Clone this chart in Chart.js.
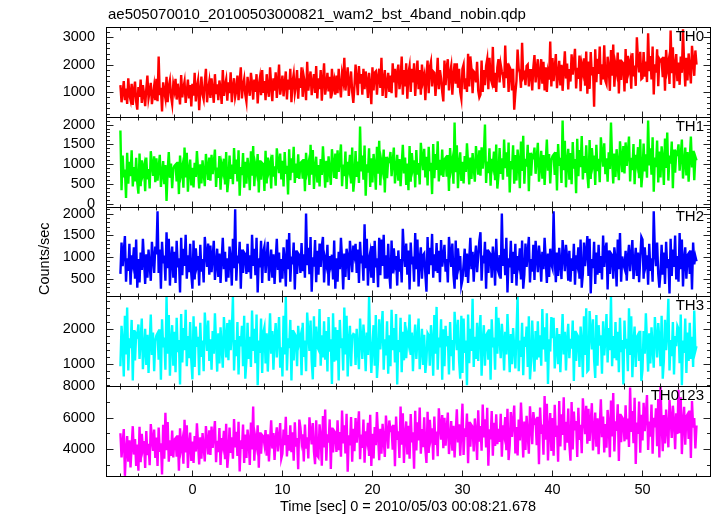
<!DOCTYPE html>
<html><head><meta charset="utf-8">
<script src="https://cdn.jsdelivr.net/npm/chart.js@4/dist/chart.umd.min.js"></script>
<style>
html,body{margin:0;padding:0;background:#fff;}
#wrap{position:relative;width:717px;height:516px;overflow:hidden;background:#fff;}
#wrap canvas{position:absolute;left:0;}
</style></head><body><div id="wrap"></div>
<script>
const plotTitle = "ae505070010_20100503000821_wam2_bst_4band_nobin.qdp";
const xTitle = "Time [sec] 0 = 2010/05/03 00:08:21.678";
const yTitle = "Counts/sec";
const bandNames = ["TH0", "TH1", "TH2", "TH3", "TH0123"];
const bandColors = ["#ff0000", "#00ff00", "#0000ff", "#00ffff", "#ff00ff"];

// light-curve time grid: first bin time and bin width (sec)
const timeStart = -8;
const timeStep = 0.125;

// x axis
const xMin = -9.6, xMax = 57.5;
const xTickLabels = [0, 10, 20, 30, 40, 50];
const xMinorStep = 2, xMajorStep = 10;

// y axes, one per panel
const yMin = [80, -75, 100, 370, 2290];
const yMax = [3380, 2190, 2150, 2930, 8000];
const yTickLabels = [[1000, 2000, 3000], [0, 500, 1000, 1500, 2000], [500, 1000, 1500, 2000], [1000, 2000], [4000, 6000, 8000]];
const yMajorStep = [1000, 500, 500, 1000, 2000];
const yMinorStep = [200, 100, 100, 200, 1000];

// counts/sec, one value per 0.125 s bin from t = -8 s to t = 56 s
const th0 = [
1250,620,980,1400,700,1120,560,1500,880,700,1300,520,1050,1380,640,350,
1180,820,1450,600,1250,930,480,1100,1600,760,1020,1330,550,900,1220,700,
1480,660,2300,880,1150,280,1350,1000,760,1550,620,1200,1420,840,560,1280,
1050,1480,720,1300,940,540,1620,800,1150,1380,600,1010,1450,760,1250,470,
1300,860,1700,650,1180,1420,330,1050,1560,900,720,1350,1850,620,1100,1380,
780,1500,1050,600,1650,920,1280,700,1420,1120,560,1800,850,1250,1460,680,
1350,960,1720,620,1180,1500,820,1050,1600,700,1400,1900,760,1250,1480,900,
640,1550,1150,860,1700,1300,720,1450,1000,1650,580,1250,1520,880,1800,960,
1400,700,1650,1100,820,1900,1250,660,1500,1050,1720,780,1350,2000,900,1200,
1600,840,1300,1750,720,1450,1080,1850,620,1380,1650,960,1250,1800,750,1500,
1150,1900,820,1550,1300,700,2100,1050,1450,1750,880,1350,1650,960,1950,760,
1500,1100,1800,680,1400,2050,900,1250,1700,1020,1550,760,1850,1150,1400,900,
1600,950,1850,1250,800,1650,1400,2250,1050,1500,1900,850,1350,1750,1000,600,
1200,2000,1450,880,1950,1300,1650,900,1850,1100,1750,1400,780,1700,1250,550,
1900,1050,1700,1750,900,1550,1850,1150,2250,850,1450,1800,780,1350,1700,1000,
1600,950,2050,1350,1850,800,1700,2000,1100,1450,2300,900,1800,1200,2050,750,
1700,1950,1000,1850,1350,2050,850,1550,2150,1100,1800,900,2000,1400,1600,700,
1600,2150,950,1900,2100,1200,1750,1700,850,1450,2250,1100,1800,1500,1000,650,
2150,1250,1900,2200,1050,1700,1950,900,1600,2050,1300,2050,1150,1850,1000,750,
1850,2000,1100,1500,1000,2400,1200,2300,1850,950,1750,1700,1350,2100,1050,800,
900,2150,1000,1800,1250,1950,2200,1100,2250,1500,1350,2650,1150,1700,1000,1900,
2200,1350,2000,1750,1600,1150,2700,1500,2050,1000,1900,1800,1050,1850,350,950,
1400,2550,1850,1700,1150,2800,1550,1650,1250,1950,2000,1200,1800,1800,1050,1900,
2350,1350,1850,2200,1100,1650,2200,1300,2100,1050,1900,1000,1700,1450,2850,1200,
2240,1390,1890,2390,1140,1640,2140,1240,1990,1040,1790,2490,1490,2040,1090,1840,
1380,2380,1630,2080,2580,1130,1880,1480,2330,1030,1980,1730,2230,1230,2480,930,
2110,1110,2460,1610,1910,460,2560,1360,2210,1660,2660,1260,2010,1460,2710,1410,
1290,2290,1890,1040,2540,1590,2740,1190,1990,1740,2440,940,2190,1440,2090,2040,
1020,2570,1320,2320,1820,2070,1120,2420,1570,1970,1220,3000,2170,1720,2470,1470,
1510,2460,1560,2110,1360,3150,1760,2310,1460,2660,910,2010,1710,2560,1210,2210,
2140,2190,1540,2290,1040,2540,1840,2090,1290,3250,1690,2640,1140,1990,2390,1390,
2080,1260,2300,1700,3300,2030,1200,2250,1420,2410,1860,1310,2690,2140,1590,2520,
2000];

const th1 = [
1850,350,1220,670,870,150,1290,510,1060,700,1350,440,930,570,1160,540,
260,1270,450,1100,780,940,320,1170,620,880,390,1330,1010,710,1200,550,
1150,590,920,1240,430,760,1080,500,980,80,850,1310,660,1020,400,890,
960,990,570,1060,250,1220,770,930,410,1420,670,1290,310,860,1120,470,
910,420,1040,680,1330,870,390,1000,520,1100,780,450,1260,940,610,1170,
590,1240,750,1050,1370,430,920,660,1210,360,980,820,1140,490,1310,300,
600,1220,630,990,500,1410,760,1120,570,1350,210,930,730,1280,410,1060,
510,1160,900,350,1330,710,1460,450,970,810,1260,290,1100,610,1030,1000,
330,1340,520,1170,850,1010,390,1240,690,950,460,1400,1080,780,1270,620,
1090,440,1310,760,960,240,1380,600,1150,790,1440,530,1020,660,1250,630,
1030,1060,640,1130,320,1290,840,1000,480,1490,740,1360,380,930,1190,540,
980,440,1130,730,1450,950,410,1090,550,1200,840,480,1380,1020,660,1270,
630,1350,810,1140,1500,450,990,700,1320,380,1060,880,1240,520,1420,310,
640,1330,680,1070,530,1950,820,1220,610,1470,210,1000,790,1400,430,1150,
540,1260,980,360,1440,760,1590,470,1050,870,1370,290,1190,650,1120,1080,
1310,700,1060,1420,520,880,1240,590,1130,450,990,1490,770,1170,480,1020,
350,1460,560,1280,920,1100,420,1360,740,1030,490,1540,1180,850,1390,670,
1190,470,1440,830,1040,250,1510,650,1260,860,1580,570,1110,720,1370,680,
1120,1160,690,1230,330,1410,910,1090,510,2050,800,1480,400,1020,1300,580,
1060,520,1210,810,1530,1030,490,1170,630,1280,920,560,1460,1100,740,1350,
710,1430,890,1220,2000,530,1070,780,1400,460,1140,960,1320,600,1500,390,
720,1410,760,1150,610,1620,900,1300,690,1550,290,1080,870,1480,510,1230,
590,1370,1060,400,1570,830,1720,510,1140,940,1490,320,1290,710,1220,1180,
1420,760,1150,1540,560,950,1340,640,1230,480,1070,1620,840,1260,520,1110,
1200,1240,730,1310,340,1510,960,1160,530,2100,850,1590,420,1080,1390,610,
1280,500,1560,890,1130,270,1640,700,1360,930,1710,620,1210,780,1480,740,
400,1610,630,1410,1020,1220,480,1490,830,1140,550,1680,1290,940,1530,750,
1150,560,1300,880,2050,1110,520,1270,680,1380,990,600,1580,1190,800,1460,
770,1550,960,1310,1700,570,1160,850,1510,500,1240,1040,1430,650,1630,420,
780,1520,820,1250,660,2100,970,1400,740,1680,310,1170,930,1600,540,1320,
670,1450,1140,480,1650,910,1800,590,1220,1020,1570,400,1370,790,1300,1260,
1500,840,1230,1620,640,1030,1420,720,1310,560,1150,1700,920,1340,600,1190,
1100];

const th2 = [
610,1330,790,1120,1480,430,970,680,1300,360,1040,860,1220,500,1400,290,
950,410,1100,700,1420,920,380,1060,520,1170,810,450,1350,990,630,1240,
1060,2050,630,1170,270,1350,850,1030,450,1570,740,1420,340,960,1240,520,
1120,400,1370,760,970,180,1440,580,1190,790,1510,500,1040,650,1300,610,
270,1380,480,1200,840,1020,340,1280,660,950,410,1460,1100,770,1310,590,
1260,650,1010,1370,470,830,1190,540,1080,400,940,1440,720,1120,430,970,
520,1240,960,340,1420,740,2100,450,1030,850,1350,270,1170,630,1100,1060,
610,1300,650,1040,500,1510,790,1190,580,1440,180,970,760,1370,400,1120,
1240,630,990,1350,450,810,1170,520,1060,380,920,1420,700,1100,410,950,
500,1220,940,320,1400,720,1550,430,1010,830,1330,250,1150,610,1080,1040,
630,1320,670,1060,520,2000,810,1210,600,1460,200,990,780,1390,420,1140,
590,1310,770,1250,1460,410,950,820,1280,340,1020,840,1050,480,1380,270,
970,430,1120,720,1440,940,250,1080,540,1190,1000,470,1370,1010,650,1260,
1060,1300,630,1170,400,1350,850,1030,450,1750,740,1420,340,960,1100,520,
1250,400,1370,760,970,300,1440,580,1400,790,1510,500,1040,500,1300,610,
270,1380,620,1200,840,1020,340,1150,660,950,410,1650,1100,770,1310,590,
1150,250,1330,830,1010,430,1550,720,1400,320,940,1220,500,1040,1080,610,
200,1460,600,1210,810,1530,520,1060,670,1320,630,1140,420,1390,780,990,
1280,660,950,410,1460,1100,770,1310,590,270,1380,480,1200,840,1020,340,
470,830,1190,540,1080,400,940,1440,720,1120,430,970,1260,650,1010,1370,
1570,450,1030,850,1350,270,1170,630,1100,1060,520,1240,960,340,1420,740,
650,1040,500,2000,790,1190,580,1440,180,970,760,1370,400,1120,610,1300,
340,1020,840,1200,480,1380,270,590,1310,770,1100,1460,410,950,660,1280,
470,1370,1010,650,1260,970,430,1120,720,1440,940,400,1080,540,1190,830,
740,2050,960,420,1100,560,1210,850,490,1390,1030,670,1280,990,450,1140,
430,970,680,1300,360,1040,860,1220,500,1400,290,610,1330,790,1120,1480,
560,1420,160,950,740,1350,380,1100,590,1280,630,1020,480,1490,770,1170,
1330,250,1150,610,1080,1040,500,1220,940,320,1400,720,1550,430,1010,830,
740,1140,450,990,1280,670,1030,1390,490,850,1210,560,1100,420,960,1460,
1400,500,1220,860,1040,360,1300,680,970,430,2050,1120,790,1330,610,290,
630,1280,590,1100,380,1350,740,950,160,1420,560,1170,770,1490,480,1020,
430,1550,720,1400,320,940,1220,500,1040,1080,610,1150,250,1330,830,1010,
900];

const th3 = [
930,2080,1620,640,2370,1270,2600,810,1730,1450,2250,530,1960,1100,1850,1790,
2120,1140,1710,2290,850,1430,2000,970,1830,740,1600,2400,1250,1890,790,1660,
1810,1870,1120,1980,550,2270,1470,1750,830,2900,1290,2390,660,1640,2100,950,
1910,760,2310,1330,1680,410,2420,1040,2020,1390,2540,930,1790,1160,2190,1100,
560,2350,910,2060,1480,1770,680,2170,1200,1660,790,2460,1890,1370,2230,1080,
1700,830,1930,1290,2440,1640,780,1870,1010,2040,1470,890,2330,1750,1180,2160,
1100,2250,1390,1910,2900,810,1680,1220,2190,700,1790,1500,2080,930,2370,580,
1080,2170,1140,1770,910,2520,1370,2000,1020,2400,390,1660,1310,2290,740,1890,
2040,1010,1870,780,1640,2440,1290,1930,830,1700,2160,1180,1750,2330,890,1470,
640,2370,1270,2900,810,1730,1450,2250,530,1960,1100,1850,1790,930,2080,1620,
1770,680,2170,1200,1660,790,2460,1890,1370,2230,1080,560,2350,910,2060,1480,
1410,2560,950,1810,1180,2210,1120,1930,780,2330,1350,1700,430,2440,1060,2040,
1100,1960,530,2250,1450,1730,810,2600,1270,2370,640,1620,2080,930,1790,1850,
1830,970,2000,1430,850,2290,1710,1140,2120,1660,790,1890,1250,2900,1600,740,
1520,2100,950,2390,600,1120,2270,1410,1930,2500,830,1700,1240,2210,720,1810,
930,2540,1390,2020,1040,2420,410,1680,1330,2310,760,1910,1100,2190,1160,1790,
1600,2400,1250,1890,790,1660,2120,1140,1710,2290,850,1430,2000,970,1830,740,
1120,1870,1810,950,2100,1640,660,2390,1290,2620,830,1750,1470,2270,550,1980,
930,2080,1500,1790,700,2190,1220,1680,810,2480,1910,1390,2250,1100,580,2370,
740,2290,1310,1660,390,2400,1020,2000,1370,2850,910,1770,1140,2170,1080,1890,
2390,660,1640,2100,950,1810,1870,1120,1980,550,2270,1470,1750,830,2620,1290,
2310,1730,1160,2140,1680,810,1910,1270,2420,1620,760,1850,990,2020,1450,870,
1890,2900,790,1660,1200,2170,680,1770,1480,2060,910,2350,560,1080,2230,1370,
780,1930,1120,2210,1180,1810,950,2560,1410,2040,1060,2440,430,1700,1350,2330,
1730,2310,870,1450,2020,990,1850,760,1620,2420,1270,1910,810,1680,2140,1160,
1710,1430,2230,510,1940,1080,1830,1770,910,2060,1600,620,2350,1250,2580,790,
830,2500,1930,1410,2270,1120,600,2390,950,2100,1520,1810,720,2210,1240,1700,
2420,1040,2020,1390,2900,930,1790,1160,2190,1100,1910,760,2310,1330,1680,410,
2230,1430,1710,790,2580,1250,2350,620,1600,2060,910,1770,1830,1080,1940,510,
830,1930,1290,2440,1640,780,1870,1010,2040,1470,890,2330,1750,1180,2160,1700,
930,2370,580,1100,2250,1390,1910,2850,810,1680,1220,2190,700,1790,1500,2080,
2000,1020,2400,390,1660,1310,2290,740,1890,1080,2170,1140,1770,910,2520,1370,
1500];

const th0123 = [
5000,3470,4370,5270,2300,3920,4820,3200,4550,2840,4190,5450,3650,4640,2930,4280,
2620,5410,3160,4960,4060,4510,2800,5140,3610,4330,2980,5590,4690,3880,5230,3430,
4730,2930,5360,3830,4370,2390,5540,3380,6300,3920,5720,3200,4550,3560,5180,3470,
4600,4690,3520,4870,2620,5320,4060,4510,3070,5860,3790,5500,2800,4330,5050,3250,
4470,3120,4830,3840,5640,4380,3030,4740,3390,5010,4110,3210,5460,4560,3660,5190,
3620,5420,4070,4880,5780,3170,4520,3800,5330,2990,4700,4250,5150,3350,5600,2810,
3660,5370,3750,4740,3390,5910,4110,5100,3570,5730,2580,4560,4020,5550,3120,4920,
3440,5240,4520,2990,5690,3980,6700,3260,4700,4250,5510,2810,5060,3710,4880,4790,
4300,5200,3580,4930,3220,4570,5830,4030,5020,3310,4660,5380,3850,4750,5650,3400,
3710,5240,4250,6050,3530,4880,3890,5510,3800,5060,3260,5690,4160,4700,2720,5870,
5380,4480,4930,3220,5560,4030,4750,3400,6010,5110,4300,5650,3850,3040,5830,3580,
3470,5570,4730,2940,6090,4100,6510,3260,4940,4410,5880,2730,5360,3780,5150,5040,
3820,5820,3930,5080,3510,6450,4350,5500,3720,6240,2560,4870,4240,6030,3190,5290,
3870,5970,4400,5340,6390,3350,4920,4080,5870,3140,5130,4610,5660,3560,6180,2930,
4970,3400,5390,4240,6340,4870,3290,5290,3710,5600,4550,3500,6130,5080,4030,5810,
5220,5330,3960,5540,2910,6060,4590,5120,3440,6690,4280,6270,3120,4910,5750,3650,
5480,3380,6220,4430,5060,2750,6430,3910,5690,4540,6640,3700,5270,4120,6010,4010,
3120,6370,3750,5850,4800,5320,3330,6060,4270,5110,3540,6580,5530,4590,6160,4060,
5990,4210,5260,6310,3680,4730,5780,3890,5470,3470,5050,6520,4420,5570,3580,5150,
6880,3630,5310,4780,6250,3100,5730,4150,5520,5410,3840,5940,5100,3310,6460,4470,
5460,3890,6830,4730,5880,4100,6620,2940,5250,4620,6410,3570,5670,4200,6200,4310,
5290,4450,6240,3510,5500,4980,6030,3930,6550,3300,4240,6340,4770,5710,6760,3720,
5390,3590,5870,4550,6950,5270,3470,5750,3950,6110,4910,3710,6710,5510,4310,6350,
5680,5800,4240,6040,3040,6640,4960,5560,3640,7360,4600,6880,3280,5320,6280,3880,
5970,3570,6810,4770,5490,3200,7050,4170,6210,4890,7290,3930,5730,4410,6570,4290,
3260,6980,3980,6380,5180,5780,3500,6620,4580,5540,3740,7220,6020,4940,6740,4340,
6550,4510,5710,6910,3910,5110,6310,4150,5950,3670,5470,7150,4750,6070,3790,5590,
4080,6480,5520,3480,7080,4800,7560,3840,5760,5160,6840,3240,6240,4440,6000,5880,
4490,6770,4610,5930,4130,7900,5090,6410,4370,7250,3050,5690,4970,7010,3770,6170,
4540,6940,5140,6220,7420,3940,5740,4780,6820,3700,5980,5380,6580,4180,7180,3460,
8000,5670,3870,6150,4350,6510,5310,4110,7110,5910,4710,6750,5790,3990,6270,4950,
7760,5000,7280,3680,5720,6680,4280,6080,6200,4640,6440,3440,7040,5360,5960,4040,
5500];

const series = [th0, th1, th2, th3, th0123];

const FONT = "'Liberation Sans', Arial, Helvetica, sans-serif";
Chart.defaults.font.family = FONT;
Chart.defaults.color = '#000';

const W = 717, H = 516;
const borders = [27, 117, 207, 296, 386, 476];
const plotLeft = 106, plotRight = 710;

function framePlugin(i) {
  return {
    id: 'frame' + i,
    afterDatasetsDraw(chart) {
      const {ctx, chartArea: a} = chart;
      const xs = chart.scales.x, ys = chart.scales.y;
      const L = Math.round(a.left) + 0.5, R = Math.round(a.right) + 0.5;
      const T = Math.round(a.top) + 0.5, B = Math.round(a.bottom) + 0.5;
      ctx.save();
      ctx.strokeStyle = '#222';
      ctx.lineWidth = 1;
      ctx.beginPath();
      const k0 = Math.ceil(xs.min / xMinorStep), k1 = Math.floor(xs.max / xMinorStep);
      for (let k = k0; k <= k1; k++) {
        const v = k * xMinorStep;
        const px = Math.round(xs.getPixelForValue(v)) + 0.5;
        const len = (v % xMajorStep === 0) ? 6 : 3;
        ctx.moveTo(px, T); ctx.lineTo(px, T + len);
        ctx.moveTo(px, B); ctx.lineTo(px, B - len);
      }
      const st = yMinorStep[i], mj = yMajorStep[i];
      const j0 = Math.ceil(ys.min / st), j1 = Math.floor(ys.max / st);
      for (let j = j0; j <= j1; j++) {
        const v = j * st;
        const py = Math.round(ys.getPixelForValue(v)) + 0.5;
        const len = (v % mj === 0) ? 7 : 3.5;
        ctx.moveTo(L, py); ctx.lineTo(L + len, py);
        ctx.moveTo(R, py); ctx.lineTo(R - len, py);
      }
      ctx.stroke();
      ctx.strokeStyle = '#000';
      ctx.strokeRect(L, T, R - L, B - T);
      ctx.fillStyle = '#000';
      ctx.font = '15px ' + FONT;
      ctx.textAlign = 'right';
      ctx.textBaseline = 'middle';
      ctx.fillText(bandNames[i], 704, a.top + 10);
      if (i === 0) {
        ctx.textAlign = 'left';
        ctx.fillText(plotTitle, 108, 15);
      }
      ctx.restore();
    }
  };
}

const wrap = document.getElementById('wrap');
for (let i = 0; i < 5; i++) {
  const top = borders[i], bot = borders[i + 1];
  const last = i === 4;
  const cTop = i === 0 ? 0 : top - 20;
  const cH = last ? H - cTop : bot + 20 - cTop;
  const cv = document.createElement('canvas');
  cv.width = W; cv.height = cH;
  cv.style.top = cTop + 'px';
  cv.style.width = W + 'px'; cv.style.height = cH + 'px';
  wrap.appendChild(cv);
  const pts = series[i].map((v, k) => ({x: timeStart + k * timeStep, y: v}));
  const xScale = {
    type: 'linear', min: xMin, max: xMax, display: last,
    grid: {display: false, drawTicks: false}, border: {display: false},
    ticks: {padding: 5, color: '#000', font: {size: 14.5}, maxRotation: 0, autoSkip: false, callback: v => String(v)},
    title: {display: last, text: xTitle, color: '#000', font: {size: 14.5}, padding: {top: 0, bottom: 0}}
  };
  if (last) {
    xScale.afterBuildTicks = s => { s.ticks = xTickLabels.map(v => ({value: v})); };
    xScale.afterFit = s => { s.height = H - borders[5]; };
  }
  new Chart(cv, {
    type: 'line',
    data: {datasets: [{data: pts, borderColor: bandColors[i], borderWidth: 2.4, pointRadius: 0, tension: 0, fill: false, borderJoinStyle: 'miter'}]},
    options: {
      responsive: false, animation: false, devicePixelRatio: 1, parsing: false, normalized: true,
      layout: {padding: {left: 0, right: W - plotRight, top: top - cTop, bottom: last ? 0 : 20}},
      plugins: {legend: {display: false}, tooltip: {enabled: false}, title: {display: false}},
      events: [],
      scales: {
        x: xScale,
        y: {
          type: 'linear', min: yMin[i], max: yMax[i],
          grid: {display: false, drawTicks: false}, border: {display: false},
          afterBuildTicks: s => { s.ticks = yTickLabels[i].map(v => ({value: v})); },
          afterFit: s => { s.width = plotLeft; },
          ticks: {padding: 11, color: '#000', font: {size: 14.5}, autoSkip: false, callback: v => String(v)},
          title: i === 2 ? {display: true, text: yTitle + '\u2002\u2002', color: '#000', font: {size: 14.5}, padding: {top: 36, bottom: 0}} : {display: false}
        }
      }
    },
    plugins: [framePlugin(i)]
  });
}
</script></body></html>
